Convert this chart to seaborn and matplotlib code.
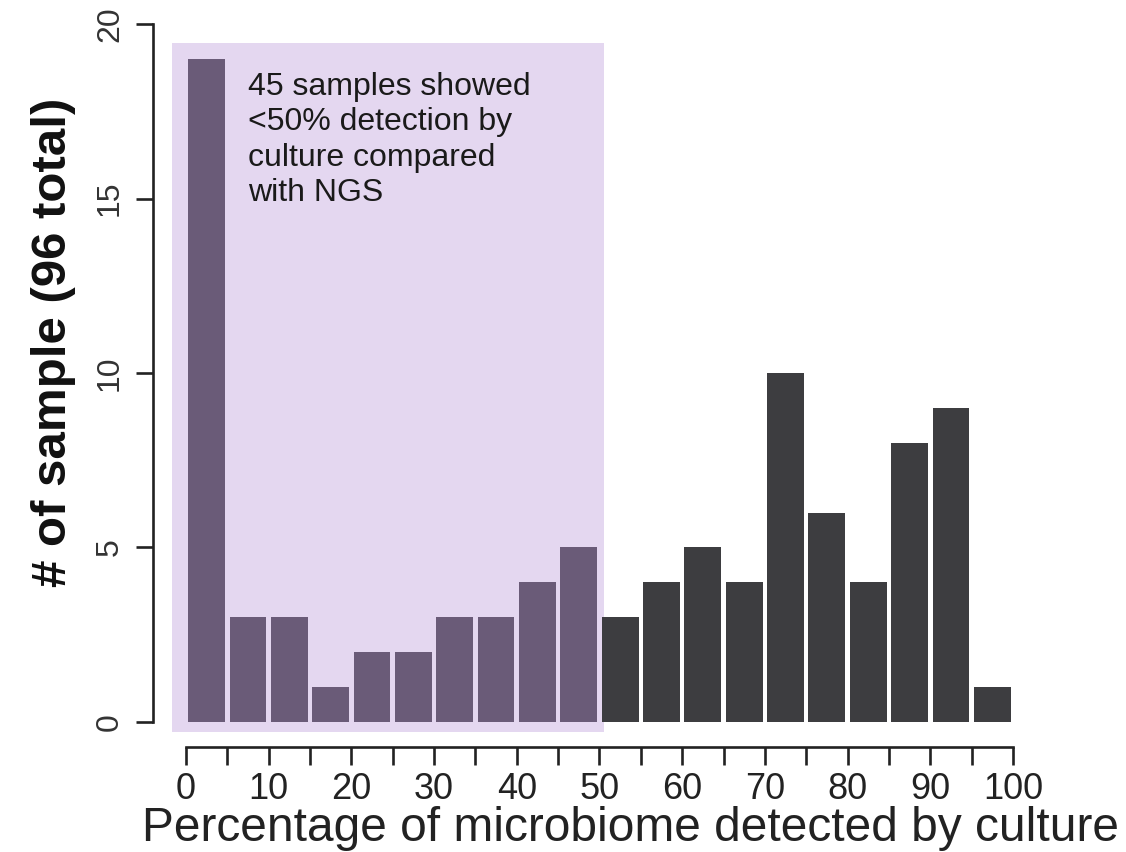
import numpy as np
import pandas as pd
import matplotlib
matplotlib.use("Agg")
import matplotlib.pyplot as plt
from matplotlib.patches import Rectangle
import seaborn as sns

# Bin counts of samples by percentage of microbiome detected by culture (5% bins)
bin_edges = list(range(0, 105, 5))
low_counts = [19, 3, 3, 1, 2, 2, 3, 3, 4, 5]      # bins 0-50%
high_counts = [3, 4, 5, 4, 10, 6, 4, 8, 9, 1]     # bins 50-100%
x_ticks = list(range(0, 105, 5))
x_tick_labels = [str(v) if v % 10 == 0 else "" for v in x_ticks]
y_ticks = [0, 5, 10, 15, 20]
annotation = "45 samples showed\n<50% detection by\nculture compared\nwith NGS"

sns.set_theme(style="white")
plt.rcParams["font.family"] = ["Liberation Sans", "DejaVu Sans"]

centers = np.array(bin_edges[:-1]) + 2.5
df = pd.DataFrame({
    "pct": centers,
    "count": low_counts + high_counts,
    "group": ["low"] * len(low_counts) + ["high"] * len(high_counts),
})

fig = plt.figure(figsize=(11.26, 8.52), dpi=100)
ax = fig.add_axes([0.12433, 0.10798, 0.79041, 0.87441])

# shaded region for samples below 50% detection
ax.add_patch(Rectangle((-1.7, -0.29), 52.2, 19.75, facecolor="#E4D7F0",
                       edgecolor="none", zorder=0))

sns.histplot(data=df[df.group == "low"], x="pct", weights="count",
             bins=bin_edges, shrink=0.89, color="#6A5B78", alpha=1,
             linewidth=0, ax=ax, zorder=2)
sns.histplot(data=df[df.group == "high"], x="pct", weights="count",
             bins=bin_edges, shrink=0.89, color="#3D3D40", alpha=1,
             linewidth=0, ax=ax, zorder=2)

ax.text(7.5, 18.62, annotation, fontsize=23, color="#1a1a1a",
        va="top", ha="left", linespacing=1.23, zorder=3)

ax.set_xlim(-5.56, 102.06)
ax.set_ylim(-1.089, 20.258)

for s in ["top", "right"]:
    ax.spines[s].set_visible(False)
ax.spines["left"].set_position(("data", -4.0))
ax.spines["bottom"].set_position(("data", -0.72))
ax.spines["left"].set_bounds(0, 20)
ax.spines["bottom"].set_bounds(0, 100)
for s in ["left", "bottom"]:
    ax.spines[s].set_linewidth(1.9)
    ax.spines[s].set_color("#222222")

ax.set_xticks(x_ticks)
ax.set_xticklabels(x_tick_labels, fontsize=26, color="#222222")
ax.set_yticks(y_ticks)
ax.set_yticklabels([str(v) for v in y_ticks], fontsize=23, color="#333333",
                   rotation=90, va="center")
ax.tick_params(axis="x", length=13, width=1.9, color="#222222", pad=5,
               bottom=True)
ax.tick_params(axis="y", length=12, width=1.9, color="#222222", pad=8,
               left=True)

ax.set_xlabel("Percentage of microbiome detected by culture", fontsize=34.5,
              color="#222222")
ax.xaxis.set_label_coords(631 / 1126, (852 - 806) / 852, transform=fig.transFigure)
ax.xaxis.label.set_va("top")
ax.set_ylabel("# of sample (96 total)", fontsize=35.5, fontweight="bold",
              color="#111111")
ax.yaxis.set_label_coords(76 / 1126, (852 - 342) / 852, transform=fig.transFigure)

ax.grid(False)
fig.savefig("out.png", dpi=100)
